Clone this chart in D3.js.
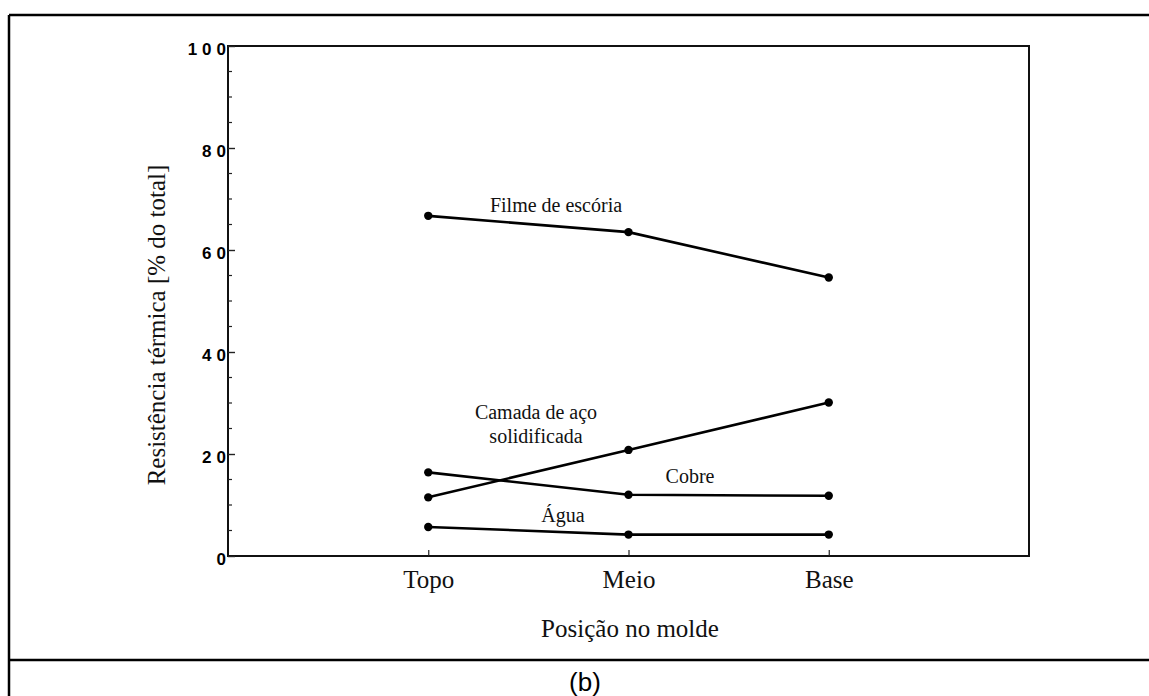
<!DOCTYPE html>
<html>
<head>
<meta charset="utf-8">
<script src="https://cdn.jsdelivr.net/npm/d3@7"></script>
<style>
    body { margin: 0; background: #fff; }
    svg { display: block; }
    .frame { stroke: #000; stroke-width: 2.5; }
    .box { fill: none; stroke: #111; stroke-width: 2; }
    .serie { fill: none; stroke: #000; stroke-width: 2.6; }
    .ponto { fill: #000; }
    .ytick text { font-family: "Liberation Sans", Arial, sans-serif; font-weight: bold; font-size: 17px; letter-spacing: 5px; }
    .serif { font-family: "Liberation Serif", "Times New Roman", serif; fill: #111; }
</style>
</head>
<body>
<div id="chart"></div>
<script>
// posições no molde
const posicoes = ["Topo", "Meio", "Base"];

// resistência térmica [% do total]
const filme   = [66.7, 63.5, 54.6];
const camada  = [11.5, 20.8, 30.1];
const cobre   = [16.4, 12.0, 11.8];
const agua    = [5.7, 4.2, 4.2];

const yTicks = [0, 20, 40, 60, 80, 100];

const series = [
    {nome: "Filme de escória", valores: filme},
    {nome: "Camada de aço solidificada", valores: camada},
    {nome: "Cobre", valores: cobre},
    {nome: "Água", valores: agua},
];

function make_chart() {
    var width = 1149, height = 696;
    var left = 228, right = 1029, top = 46, bottom = 556;

    var svg = d3.select("#chart").append("svg")
        .attr("width", width)
        .attr("height", height);

    // moldura da tabela
    svg.append("line").attr("class", "frame")
        .attr("x1", 9).attr("y1", 15).attr("x2", width).attr("y2", 15);
    svg.append("line").attr("class", "frame")
        .attr("x1", 9).attr("y1", 15).attr("x2", 9).attr("y2", height);
    svg.append("line").attr("class", "frame")
        .attr("x1", 9).attr("y1", 660).attr("x2", width).attr("y2", 660);

    var xScale = d3.scalePoint(posicoes, [left, right]).padding(1);
    var yScale = d3.scaleLinear([0, 100], [bottom, top]);

    svg.append("rect")
        .attr("x", left).attr("y", top)
        .attr("width", right - left).attr("height", bottom - top)
        .attr("class", "box");

    // ticks menores (a cada 5)
    var minor = d3.range(5, 100, 5).filter(d => d % 20 != 0);
    svg.selectAll(".minor").data(minor).join("line")
        .attr("x1", left).attr("x2", left + 4)
        .attr("y1", d => yScale(d)).attr("y2", d => yScale(d))
        .attr("stroke", "#222").attr("stroke-width", 1.2);

    var yAxis = d3.axisLeft(yScale).tickValues(yTicks).tickSize(-7).tickPadding(0);
    var gy = svg.append("g")
        .attr("class", "ytick")
        .attr("transform", `translate(${left},0)`)
        .call(yAxis);
    gy.select(".domain").remove();
    gy.selectAll("line").attr("stroke", "#222").attr("stroke-width", 1.4);
    gy.selectAll("text").attr("dy", "0.48em").attr("x", 3).attr("fill", "#000");

    var xAxis = d3.axisBottom(xScale).tickSize(-6).tickPadding(0);
    var gx = svg.append("g")
        .attr("transform", `translate(0,${bottom})`)
        .call(xAxis);
    gx.select(".domain").remove();
    gx.selectAll("line").attr("stroke", "#222").attr("stroke-width", 1.2);
    gx.selectAll("text")
        .attr("class", "serif")
        .attr("y", 32)
        .attr("dy", 0)
        .attr("font-size", 25);

    var line = d3.line()
        .x((d, i) => xScale(posicoes[i]))
        .y(d => yScale(d));

    series.forEach(function(s) {
        svg.append("path")
            .attr("d", line(s.valores))
            .attr("class", "serie");
        svg.selectAll(null).data(s.valores).join("circle")
            .attr("cx", (d, i) => xScale(posicoes[i]))
            .attr("cy", d => yScale(d))
            .attr("r", 4.2)
            .attr("class", "ponto");
    });

    // rótulos das séries
    var rotulos = [
        {txt: "Filme de escória", x: 556, y: 212},
        {txt: "Camada de aço", x: 536, y: 419},
        {txt: "solidificada", x: 536, y: 443},
        {txt: "Cobre", x: 690, y: 483},
        {txt: "Água", x: 563, y: 522},
    ];
    svg.selectAll(".rotulo").data(rotulos).join("text")
        .attr("class", "serif")
        .attr("x", d => d.x)
        .attr("y", d => d.y)
        .attr("text-anchor", "middle")
        .attr("font-size", 20)
        .text(d => d.txt);

    svg.append("text")
        .attr("class", "serif")
        .attr("transform", "translate(165,325) rotate(-90)")
        .attr("text-anchor", "middle")
        .attr("font-size", 25)
        .text("Resistência térmica [% do total]");

    svg.append("text")
        .attr("class", "serif")
        .attr("x", 630).attr("y", 637)
        .attr("text-anchor", "middle")
        .attr("font-size", 25)
        .text("Posição no molde");

    svg.append("text")
        .attr("x", 585).attr("y", 691)
        .attr("text-anchor", "middle")
        .attr("font-family", "Liberation Sans, Arial, sans-serif")
        .attr("font-size", 26)
        .text("(b)");
};

make_chart();
</script>
</body>
</html>
